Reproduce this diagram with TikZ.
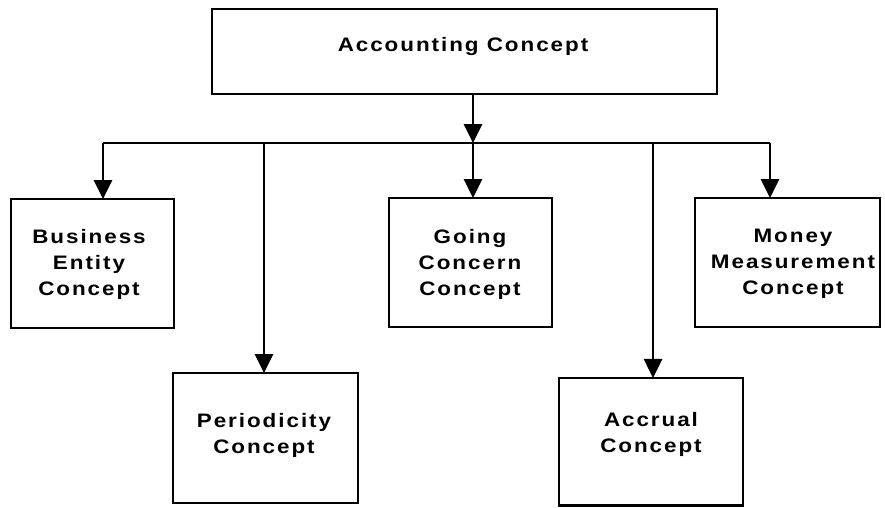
\documentclass[tikz,border=0pt]{standalone}
\usepackage{fontspec}
\setmainfont{Liberation Sans}
\newfontfamily\lblfont[FakeStretch=1.15, LetterSpace=10]{Liberation Sans}
\usetikzlibrary{arrows.meta}
\tikzset{
  box/.style={draw=black, line width=2.8pt, rectangle, inner sep=0pt, outer sep=0pt, fill=white},
  lbl/.style={align=center, inner sep=0pt, font=\lblfont\bfseries\fontsize{19.5}{26}\selectfont},
  conn/.style={line width=2.8pt, draw=black},
  arr/.style={conn, -{Triangle[width=18pt,length=19pt]}}
}
\begin{document}
\begin{tikzpicture}[x=1pt,y=-1pt]
\useasboundingbox (0,0) rectangle (885,507);
% boxes
\node[box, minimum width=505pt, minimum height=85pt] (top) at (464.5,51.5) {};
\node[box, minimum width=163pt, minimum height=129pt] (be) at (92.5,263.5) {};
\node[box, minimum width=163pt, minimum height=129pt] (gc) at (470.5,262.5) {};
\node[box, minimum width=185pt, minimum height=129pt] (mm) at (787.5,262.5) {};
\node[box, minimum width=185pt, minimum height=130pt] (per) at (265.5,438) {};
\node[box, minimum width=184pt, minimum height=127.5pt] (acc) at (651,441.7) {};
% labels
\node[lbl] (topT) at (463,46.6) {Accounting Concept};
\node[lbl] (beT) at (89,264.2) {Business\\Entity\\Concept};
\node[lbl] (gcT) at (470,264.2) {Going\\Concern\\Concept};
\node[lbl] (mmT) at (793,264.2) {Money\\Measurement\\Concept};
\node[lbl] (perT) at (264,435.2) {Periodicity\\Concept};
\node[lbl] (accT) at (651,434.2) {Accrual\\Concept};
% bus
\coordinate (stem) at (473,94);
\coordinate (j) at (473,143);
\coordinate (b1) at (103,143);
\coordinate (b2) at (264,143);
\coordinate (b3) at (473,143);
\coordinate (b4) at (653,143);
\coordinate (b5) at (770,143);
\draw[arr] (stem) -- (j);
\draw[conn] (b1) -- (b5);
\draw[arr] (b1) -- (b1 |- be.north);
\draw[arr] (b2) -- (b2 |- per.north);
\draw[arr] (b3) -- (b3 |- gc.north);
\draw[arr] (b4) -- (b4 |- acc.north);
\draw[arr] (b5) -- (b5 |- mm.north);
\end{tikzpicture}
\end{document}
